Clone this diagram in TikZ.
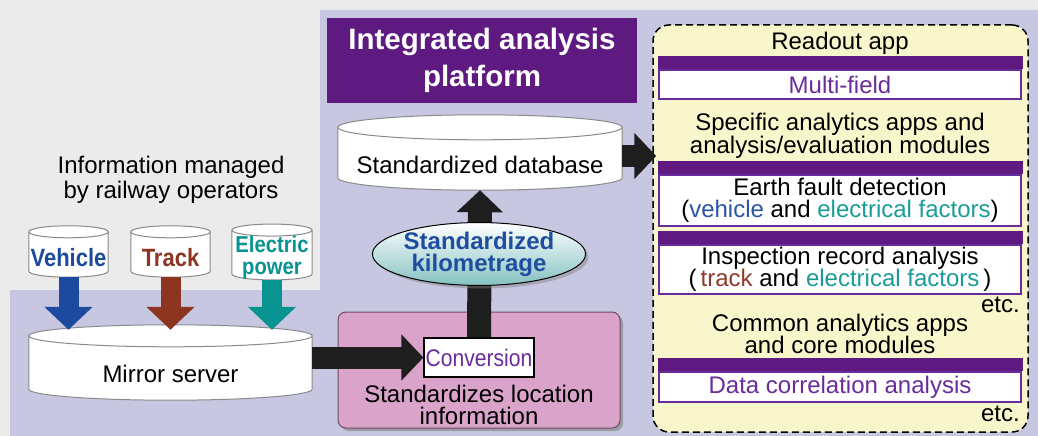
\documentclass[tikz,border=0pt]{standalone}
\usepackage{fontspec}
\setmainfont{Liberation Sans}
\newfontfamily\narrowfont[FakeStretch=0.88]{Liberation Sans}
\usetikzlibrary{arrows.meta,calc,shadows,shapes.geometric,positioning}

\definecolor{bggray}{HTML}{EBEBEB}
\definecolor{lavender}{HTML}{C7C7E2}
\definecolor{platpurple}{HTML}{5E1A80}
\definecolor{panelyellow}{HTML}{FAF6CC}
\definecolor{modpurple}{HTML}{6A2C9C}
\definecolor{vehblue}{HTML}{1D4A9E}
\definecolor{trkbrown}{HTML}{8E3522}
\definecolor{electeal}{HTML}{079490}
\definecolor{txtblue}{HTML}{2A55A5}
\definecolor{txtbrown}{HTML}{8E3A2A}
\definecolor{txtteal}{HTML}{1A9C98}
\definecolor{locpink}{HTML}{D9A3CA}
\definecolor{locedge}{HTML}{6E4A66}
\definecolor{kiloteal}{HTML}{86C2C2}
\definecolor{kiloblue}{HTML}{1F4EA0}
\definecolor{arrowblack}{HTML}{1E1E1E}
\definecolor{drumedge}{HTML}{8A8A8A}

\pgfdeclarelayer{back}
\pgfdeclarelayer{drums}
\pgfsetlayers{back,drums,main}

\newcommand{\fsz}[2]{\fontsize{#1}{#2}\selectfont}
% cylinder round the front face of a node: #1 node, #2 half height of the lid
\newcommand{\drum}[2]{%
  \path[fill=white, draw=drumedge, line width=1pt]
    let \p1=(#1.north west), \p2=(#1.south east), \n1={(\x2-\x1)/2} in
    (\x1,{\y1+#2pt}) -- (\x1,{\y2+#2pt})
    arc[start angle=180, end angle=360, x radius=\n1, y radius=#2pt]
    -- (\x2,{\y1+#2pt})
    arc[start angle=0, end angle=180, x radius=\n1, y radius=#2pt] -- cycle;
  \draw[drumedge, line width=1pt]
    let \p1=(#1.north west), \p2=(#1.north east), \n1={(\x2-\x1)/2} in
    (\x1,{\y1+#2pt}) arc[start angle=180, end angle=360, x radius=\n1, y radius=#2pt];
}

\begin{document}
\begin{tikzpicture}[
        x=1pt, y=-1pt,
        every node/.style={inner sep=0pt, align=center, font=\fsz{24}{22.5}},
        platbox/.style={fill=platpurple, text=white, font=\bfseries\fsz{29.5}{37}, minimum width=310pt, minimum height=85pt},
        panel/.style={draw, line width=1.5pt, dash pattern=on 7pt off 4pt, rounded corners=16pt, fill=panelyellow, minimum width=375pt, minimum height=407pt},
        modbox/.style={draw=modpurple, line width=1.5pt, fill=white, minimum width=362pt},
        srcdrum/.style={minimum width=79pt, minimum height=39pt, font=\narrowfont\bfseries\fsz{25}{19.5}},
        bigdrum/.style={minimum width=284pt, minimum height=50pt},
        locbox/.style={fill=locpink, draw=locedge, line width=1pt, rounded corners=8pt, minimum width=282pt, minimum height=116pt,
            drop shadow={shadow xshift=3pt, shadow yshift=-3pt, opacity=.6}},
        convbox/.style={draw, line width=1.2pt, fill=white, text=modpurple, font=\narrowfont\fsz{24}{24}, minimum width=110pt, minimum height=39pt},
        kilo/.style={ellipse, draw, line width=1pt, top color=white, bottom color=kiloteal, minimum width=188pt, minimum height=48pt,
            text=kiloblue, font=\bfseries\fsz{24}{22}, drop shadow={shadow xshift=3pt, shadow yshift=-3pt, opacity=.45}},
        feedarrow/.style={line width=20pt, -{Triangle[length=23pt,width=47pt]}},
        blockarrow/.style={draw=arrowblack, line width=22pt, -{Triangle[length=22pt,width=45pt]}}
    ]

    \useasboundingbox (0,0) rectangle (1038,436);

    % background
    \begin{pgfonlayer}{back}
        \fill[bggray] (0,0) rectangle (1038,436);
        \fill[lavender] (10,436) |- (320,290) |- (1038,10) -- (1038,436) -- cycle;
    \end{pgfonlayer}

    % platform title and panel
    \node[platbox] (title) at (482,60.5) {Integrated analysis\\platform};
    \node[panel] (panel) at (840.5,228.5) {};

    \node[anchor=base] (readout) at (840,50) {Readout app};
    \node[modbox, minimum height=29pt, text=modpurple] (multi) at (840,84.5) {Multi-field};
    \node (specific) at (840,136) {Specific analytics apps and\\analysis/evaluation modules};
    \node[modbox, minimum height=51pt] (earth) at (840,200.5) {Earth fault detection\\(\textcolor{txtblue}{vehicle} and \textcolor{txtteal}{electrical factors})};
    \node[modbox, minimum height=49pt] (insp) at (840,269.5) {Inspection record analysis\\(\,\textcolor{txtbrown}{track} and \textcolor{txtteal}{electrical factors}\,)};
    \node[anchor=base east] (etcA) at (1020,312) {etc.};
    \node (common) at (840,334) {Common analytics apps\\and core modules};
    \node[modbox, minimum height=30pt, text=modpurple] (corr) at (840,387) {Data correlation analysis};
    \node[anchor=base east] (etcB) at (1020,421) {etc.};
    \foreach \m in {multi,earth,insp,corr}
        \fill[platpurple] ([yshift=13pt,xshift=-.75pt]\m.north west) rectangle ([xshift=.75pt]\m.north east);

    % operator data
    \node[font=\fsz{24}{25}] (info) at (171,180) {Information managed\\by railway operators};
    \node[srcdrum, text=vehblue] (veh) at (68.5,257.5) {Vehicle};
    \node[srcdrum, text=trkbrown] (trk) at (170.5,257.5) {Track};
    \node[srcdrum, text=electeal, minimum width=80pt, font=\narrowfont\bfseries\fsz{23}{22}] (elec) at (272,258) {Electric\\power};
    \node[minimum width=283pt, minimum height=53pt] (mirror) at (170.5,373.5) {Mirror server};
    \node[bigdrum] (stddb) at (480,165) {Standardized database};

    \begin{pgfonlayer}{drums}
        \drum{veh}{6}
        \drum{trk}{6}
        \drum{elec}{6}
        \drum{mirror}{11}
        \drum{stddb}{12.5}
    \end{pgfonlayer}

    % location standardization
    \node[locbox] (locbox) at (479,370) {};
    \node (loctext) at (479,405) {Standardizes location\\information};
    \node[convbox] (conv) at (479,357.5) {Conversion};

    % arrows
    \draw[feedarrow, vehblue, shorten >=17pt] (veh.south) -- (veh.south |- mirror.north);
    \draw[feedarrow, trkbrown, shorten >=17pt] (trk.south) -- (trk.south |- mirror.north);
    \draw[feedarrow, electeal, shorten >=17pt] (elec.south) -- (elec.south |- mirror.north);
    \draw[blockarrow] (mirror.east |- conv.west) -- (conv.west);
    \draw[blockarrow, line width=24pt] (conv.north) -- (stddb.south);
    \draw[blockarrow, shorten >=-4pt] ([yshift=9pt]stddb.east) -- ([yshift=9pt]stddb.east -| panel.west);

    \node[kilo] (kilo) at (479,254) {Standardized\\kilometrage};

\end{tikzpicture}
\end{document}
